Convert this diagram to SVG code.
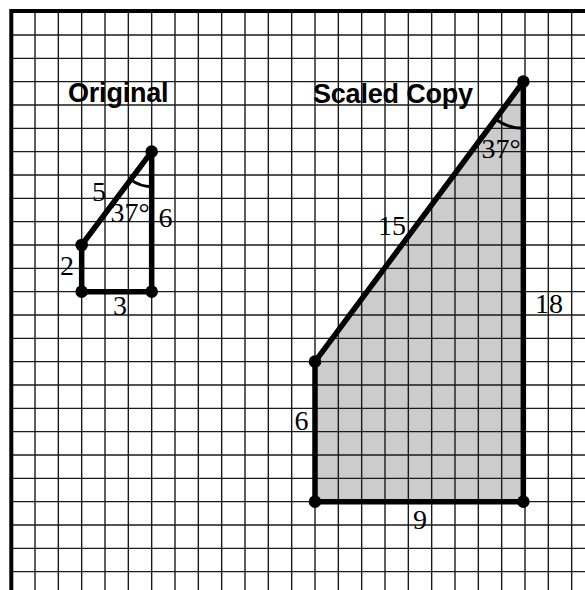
<svg xmlns="http://www.w3.org/2000/svg" width="585" height="590" viewBox="0 0 585 590">
<defs>
<style>
.grid line{stroke:#1a1a1a;stroke-width:1.4}
.edge{fill:none;stroke:#000;stroke-width:5.5;stroke-linejoin:round;stroke-linecap:round}
.arc{fill:none;stroke:#000;stroke-width:3}
.dot{fill:#000}
.title{font-family:"Liberation Sans",Arial,sans-serif;font-weight:bold;font-size:27px;fill:#000;letter-spacing:-0.2px}
.num{font-family:"Liberation Serif","Times New Roman",serif;font-size:28px;fill:#000;text-anchor:middle}
</style>
</defs>
<rect width="585" height="590" fill="#fff"/>
<polygon points="315,361.67 523.33,81.67 523.33,501.67 315,501.67" fill="#cccccc"/>
<g class="grid" id="grid">
<line x1="35" y1="11" x2="35" y2="590"/><line x1="58.33" y1="11" x2="58.33" y2="590"/><line x1="81.67" y1="11" x2="81.67" y2="590"/><line x1="105" y1="11" x2="105" y2="590"/><line x1="128.33" y1="11" x2="128.33" y2="590"/><line x1="151.67" y1="11" x2="151.67" y2="590"/><line x1="175" y1="11" x2="175" y2="590"/><line x1="198.33" y1="11" x2="198.33" y2="590"/><line x1="221.67" y1="11" x2="221.67" y2="590"/><line x1="245" y1="11" x2="245" y2="590"/><line x1="268.33" y1="11" x2="268.33" y2="590"/><line x1="291.67" y1="11" x2="291.67" y2="590"/><line x1="315" y1="11" x2="315" y2="590"/><line x1="338.33" y1="11" x2="338.33" y2="590"/><line x1="361.67" y1="11" x2="361.67" y2="590"/><line x1="385" y1="11" x2="385" y2="590"/><line x1="408.33" y1="11" x2="408.33" y2="590"/><line x1="431.67" y1="11" x2="431.67" y2="590"/><line x1="455" y1="11" x2="455" y2="590"/><line x1="478.33" y1="11" x2="478.33" y2="590"/><line x1="501.67" y1="11" x2="501.67" y2="590"/><line x1="525" y1="11" x2="525" y2="590"/><line x1="548.33" y1="11" x2="548.33" y2="590"/><line x1="571.67" y1="11" x2="571.67" y2="590"/>
<line x1="11" y1="35" x2="585" y2="35"/><line x1="11" y1="58.33" x2="585" y2="58.33"/><line x1="11" y1="81.67" x2="585" y2="81.67"/><line x1="11" y1="105" x2="585" y2="105"/><line x1="11" y1="128.33" x2="585" y2="128.33"/><line x1="11" y1="151.67" x2="585" y2="151.67"/><line x1="11" y1="175" x2="585" y2="175"/><line x1="11" y1="198.33" x2="585" y2="198.33"/><line x1="11" y1="221.67" x2="585" y2="221.67"/><line x1="11" y1="245" x2="585" y2="245"/><line x1="11" y1="268.33" x2="585" y2="268.33"/><line x1="11" y1="291.67" x2="585" y2="291.67"/><line x1="11" y1="315" x2="585" y2="315"/><line x1="11" y1="338.33" x2="585" y2="338.33"/><line x1="11" y1="361.67" x2="585" y2="361.67"/><line x1="11" y1="385" x2="585" y2="385"/><line x1="11" y1="408.33" x2="585" y2="408.33"/><line x1="11" y1="431.67" x2="585" y2="431.67"/><line x1="11" y1="455" x2="585" y2="455"/><line x1="11" y1="478.33" x2="585" y2="478.33"/><line x1="11" y1="501.67" x2="585" y2="501.67"/><line x1="11" y1="525" x2="585" y2="525"/><line x1="11" y1="548.33" x2="585" y2="548.33"/><line x1="11" y1="571.67" x2="585" y2="571.67"/>
</g>
<path d="M11.3,590 V11 H585" fill="none" stroke="#000" stroke-width="4"/>
<text class="title" x="68" y="102">Original</text>
<text class="title" x="313" y="103">Scaled Copy</text>
<g id="connectors"></g>
<g id="original">
<polygon class="edge" points="81.67,245 151.67,151.67 151.67,291.67 81.67,291.67"/>
<path class="arc" d="M130.67,179.67 A35,35 0 0 0 151.67,186.67"/>
<circle class="dot" cx="81.67" cy="245" r="6.3"/>
<circle class="dot" cx="151.67" cy="151.67" r="6.3"/>
<circle class="dot" cx="151.67" cy="291.67" r="6.3"/>
<circle class="dot" cx="81.67" cy="291.67" r="6.3"/>
<text class="num" x="99" y="201">5</text>
<text class="num" x="130" y="222">37°</text>
<text class="num" x="165.5" y="227">6</text>
<text class="num" x="67" y="275">2</text>
<text class="num" x="120" y="315">3</text>
</g>
<g id="scaled">
<polygon class="edge" points="315,361.67 523.33,81.67 523.33,501.67 315,501.67"/>
<path class="arc" d="M495.33,119 A46.67,46.67 0 0 0 523.33,128.33"/>
<circle class="dot" cx="315" cy="361.67" r="6.3"/>
<circle class="dot" cx="523.33" cy="81.67" r="6.3"/>
<circle class="dot" cx="523.33" cy="501.67" r="6.3"/>
<circle class="dot" cx="315" cy="501.67" r="6.3"/>
<text class="num" x="392" y="235">15</text>
<text class="num" x="501" y="158">37°</text>
<text class="num" x="549" y="313">18</text>
<text class="num" x="301.5" y="430">6</text>
<text class="num" x="420" y="529">9</text>
</g>
</svg>
